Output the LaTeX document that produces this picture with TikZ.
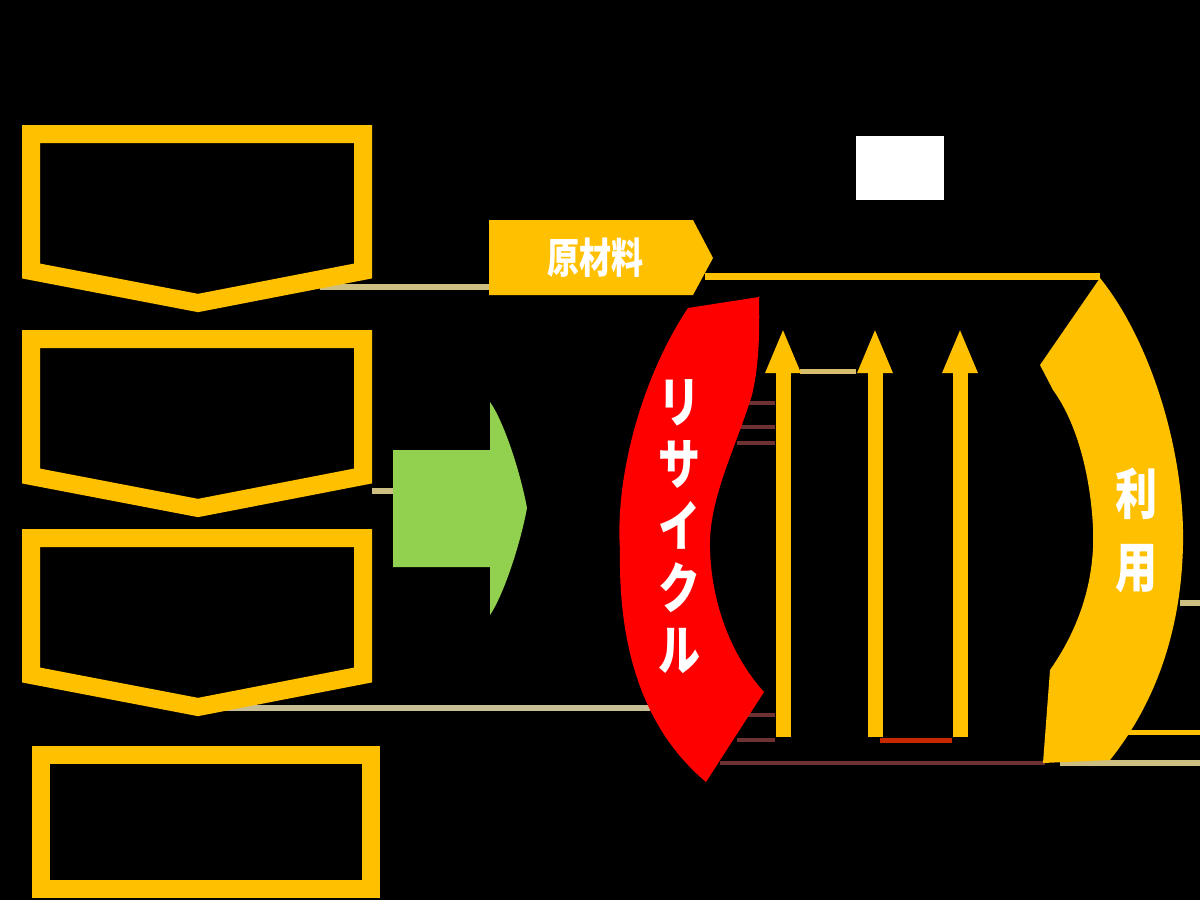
\documentclass[tikz,border=0pt]{standalone}
\usepackage{fontspec}
\usepackage{graphicx}
\usetikzlibrary{arrows.meta}
\newfontfamily\cjk{Noto Sans CJK JP}
\definecolor{ylw}{HTML}{FFC000}
\definecolor{rd}{HTML}{FF0000}
\definecolor{grn}{HTML}{92D050}
\definecolor{tan}{RGB}{205,190,130}
\definecolor{dkred}{RGB}{110,50,50}
\definecolor{brick}{RGB}{200,40,0}
\newcommand\tc[1]{\scalebox{1}[1.3]{#1}}
\tikzset{
  boxline/.style={draw=ylw, line width=18pt, miter limit=20},
  faint/.style={draw=tan, line width=6pt},
  faintred/.style={draw=dkred, line width=4pt},
  uparrow/.style={draw=ylw, line width=15pt, -{Triangle[width=32pt,length=45pt]}},
  whitetxt/.style={text=white, inner sep=0pt, align=center},
}
\begin{document}
\begin{tikzpicture}[x=1pt,y=-1pt]
\useasboundingbox (0,0) rectangle (1200,900);
\fill[black] (0,0) rectangle (1200,900);

% faint connector traces
\coordinate (b1r) at (320,287);
\coordinate (rawl) at (489,287);
\coordinate (b2r) at (372,491);
\coordinate (grl) at (393,491);
\coordinate (b3r) at (225,708);
\coordinate (rcl) at (650,708);
\draw[faint] (b1r) -- (rawl);
\draw[faint] (b2r) -- (grl);
\draw[faint, draw={rgb,255:red,200;green,190;blue,150}] (b3r) -- (rcl);

% left boxes
\draw[boxline] (31,134) -- (363,134) -- (363,271) -- (198,303) -- (31,271) -- cycle;
\draw[boxline] (31,339) -- (363,339) -- (363,476) -- (198,508) -- (31,476) -- cycle;
\draw[boxline] (31,538) -- (363,538) -- (363,675) -- (198,707) -- (31,675) -- cycle;
\draw[boxline] (41,755) rectangle (371,889);

% green arrow
\fill[grn] (393,450) -- (490,450) -- (490,402) .. controls (503,420) and (520,470) .. (527,508)
  .. controls (520,546) and (503,596) .. (490,615) -- (490,567) -- (393,567) -- cycle;

% white label rectangle
\fill[white] (856,136) rectangle (944,200);

% raw material tag
\fill[ylw] (489,220) -- (693,220) -- (713,258) -- (693,295) -- (489,295) -- cycle;
\node[whitetxt, font=\cjk\bfseries\fontsize{32}{36}\selectfont] (raw) at (595,258) {\tc{原材料}};

% line from raw material to use
\coordinate (rawtip) at (705,276);
\coordinate (usetop) at (1100,276);
\draw[draw=ylw, line width=7pt] (rawtip) -- (usetop);

% faint lines near recycle
\coordinate (f1a) at (737,403); \coordinate (f1b) at (775,403);
\coordinate (f2a) at (737,427); \coordinate (f2b) at (775,427);
\coordinate (f3a) at (737,443); \coordinate (f3b) at (775,443);
\coordinate (f4a) at (737,715); \coordinate (f4b) at (775,715);
\coordinate (f5a) at (737,740); \coordinate (f5b) at (775,740);
\coordinate (f6a) at (720,763); \coordinate (f6b) at (1045,763);
\draw[faintred] (f1a) -- (f1b);
\draw[faintred] (f2a) -- (f2b);
\draw[faintred] (f3a) -- (f3b);
\draw[faintred] (f4a) -- (f4b);
\draw[faintred] (f5a) -- (f5b);
\draw[faintred] (f6a) -- (f6b);
\coordinate (h1) at (800,371); \coordinate (h2) at (856,371);
\draw[draw={rgb,255:red,215;green,190;blue,110}, line width=5pt] (h1) -- (h2);
\coordinate (r1) at (880,740); \coordinate (r2) at (952,740);
\draw[draw=brick, line width=5pt] (r1) -- (r2);

% right faint lines
\coordinate (g1a) at (1180,603); \coordinate (g1b) at (1200,603);
\coordinate (g2a) at (1127,732); \coordinate (g2b) at (1200,732);
\coordinate (g3a) at (1060,763); \coordinate (g3b) at (1200,763);
\draw[faint] (g1a) -- (g1b);
\draw[draw=ylw, line width=5pt] (g2a) -- (g2b);
\draw[faint] (g3a) -- (g3b);

% recycle band
\fill[rd] (688,308) -- (759,297) .. controls (760,340) and (758,370) .. (752,395)
  .. controls (735,450) and (708,500) .. (710,550)
  .. controls (712,610) and (735,660) .. (764,692) -- (706,782)
  .. controls (650,735) and (618,660) .. (620,550)
  .. controls (615,480) and (640,380) .. (688,308) -- cycle;
\node[whitetxt, font=\cjk\bfseries\fontsize{42}{62}\selectfont] (recycle) at (679,527)
  {\tc{リ}\\\tc{サ}\\\tc{イ}\\\tc{ク}\\\tc{ル}};

% use band
\fill[ylw] (1100,278) .. controls (1150,340) and (1185,450) .. (1183,545)
  .. controls (1181,640) and (1150,710) .. (1110,760) -- (1043,763) -- (1050,670)
  .. controls (1085,620) and (1095,570) .. (1093,527)
  .. controls (1090,470) and (1075,420) .. (1053,390) -- (1040,365) -- cycle;
\node[whitetxt, font=\cjk\bfseries\fontsize{42}{73}\selectfont] (use) at (1136,530)
  {\tc{利}\\\tc{用}};

% three upward arrows
\coordinate (a1s) at (783,737); \coordinate (a1e) at (783,328);
\coordinate (a2s) at (875,737); \coordinate (a2e) at (875,328);
\coordinate (a3s) at (960,737); \coordinate (a3e) at (960,328);
\draw[uparrow] (a1s) -- (a1e);
\draw[uparrow] (a2s) -- (a2e);
\draw[uparrow] (a3s) -- (a3e);
\end{tikzpicture}
\end{document}
